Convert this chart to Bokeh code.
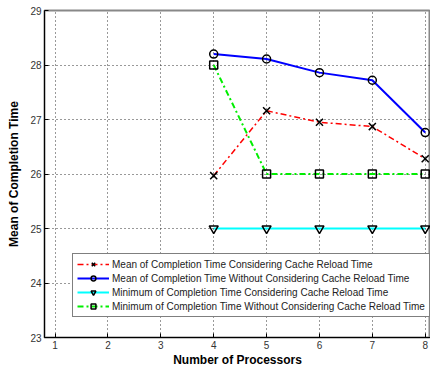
from bokeh.plotting import figure
from bokeh.models import Legend, LegendItem, Range1d, FixedTicker
from bokeh.embed import file_html
from bokeh.resources import INLINE

processors = [4, 5, 6, 7, 8]
mean_cache = [25.97, 27.16, 26.95, 26.87, 26.28]
mean_nocache = [28.20, 28.11, 27.86, 27.72, 26.76]
min_cache = [25.0, 25.0, 25.0, 25.0, 25.0]
min_nocache = [28.0, 26.0, 26.0, 26.0, 26.0]

labels = [
    "Mean of Completion Time Considering Cache Reload Time",
    "Mean of Completion Time Without Considering Cache Reload Time",
    "Minimum of Completion Time Considering Cache Reload Time",
    "Minimum of Completion Time Without Considering Cache Reload Time",
]
x_ticks = [1, 2, 3, 4, 5, 6, 7, 8]
y_ticks = [23, 24, 25, 26, 27, 28, 29]

FONT = "Liberation Sans"

p = figure(width=430, height=370, output_backend="svg", toolbar_location=None,
           x_range=Range1d(0.8, 8.1), y_range=Range1d(23, 29),
           min_border_left=44, min_border_right=0, min_border_top=10, min_border_bottom=33)
p.background_fill_color = "white"
p.outline_line_color = "#888888"
p.outline_line_width = 2

for ax in (p.xaxis[0], p.yaxis[0]):
    ax.axis_line_color = "black"
    ax.major_tick_in = 4
    ax.major_tick_out = 0
    ax.minor_tick_line_color = None
    ax.major_label_text_font = FONT
    ax.major_label_text_font_size = "10px"
    ax.major_label_text_color = "#333333"
    ax.axis_label_text_font = FONT
    ax.axis_label_text_font_size = "12px"
    ax.axis_label_text_font_style = "bold"
    ax.axis_label_text_color = "black"
    ax.major_label_standoff = 3

p.xaxis.ticker = FixedTicker(ticks=x_ticks)
p.yaxis.ticker = FixedTicker(ticks=y_ticks)
p.xaxis.axis_label = "Number of Processors"
p.yaxis.axis_label = "Mean of Completion Time"
p.xaxis.axis_label_standoff = 1
p.yaxis.axis_label_standoff = 6

p.grid.grid_line_color = "#333333"
p.grid.grid_line_dash = "1 3"
p.grid.grid_line_width = 1

dashdot = "6 3 2 3"

r1l = p.line(processors, mean_cache, line_color="red", line_width=1.5, line_dash=dashdot)
r1m = p.scatter(processors, mean_cache, marker="x", size=10, line_color="black", line_width=1.5)

r2l = p.line(processors, mean_nocache, line_color="blue", line_width=2)
r2m = p.scatter(processors, mean_nocache, marker="circle", size=8, line_color="black",
                fill_color=None, line_width=1.5)

r3l = p.line(processors, min_cache, line_color="cyan", line_width=2)
r3m = p.scatter(processors, min_cache, marker="inverted_triangle", size=9, line_color="black",
                fill_color=None, line_width=1.5)

r4l = p.line(processors, min_nocache, line_color="#00ee00", line_width=2, line_dash=dashdot)
r4m = p.scatter(processors, min_nocache, marker="square", size=8, line_color="black",
                fill_color=None, line_width=1.5)

legend = Legend(items=[
    LegendItem(label=labels[0], renderers=[r1l, r1m]),
    LegendItem(label=labels[1], renderers=[r2l, r2m]),
    LegendItem(label=labels[2], renderers=[r3l, r3m]),
    LegendItem(label=labels[3], renderers=[r4l, r4m]),
], location=(28, 20))
legend.label_text_font = FONT
legend.label_text_font_size = "10px"
legend.label_text_color = "#222222"
legend.glyph_width = 32
legend.glyph_height = 12
legend.label_height = 12
legend.spacing = 2
legend.padding = 4
legend.margin = 0
legend.label_standoff = 3
legend.border_line_color = "black"
legend.border_line_width = 1
legend.background_fill_alpha = 1
p.add_layout(legend)

open("out.html", "w").write(file_html(p, INLINE))
